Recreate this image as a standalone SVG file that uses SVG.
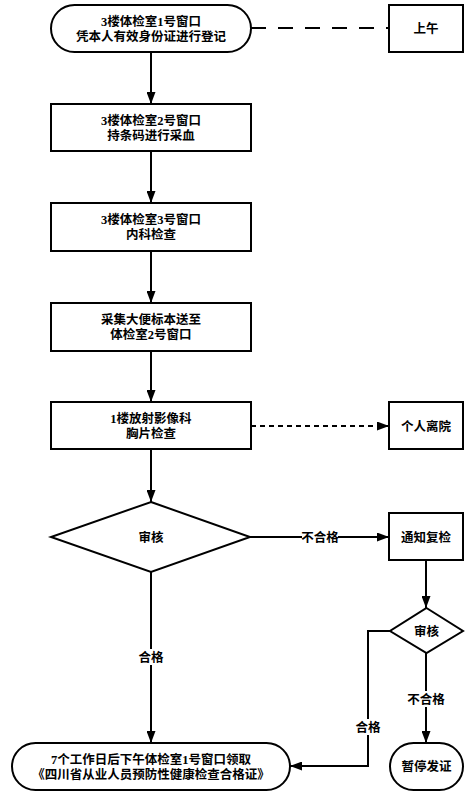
<svg xmlns="http://www.w3.org/2000/svg" width="472" height="803" viewBox="0 0 472 803">
<defs>
<marker id="ah" markerWidth="12" markerHeight="9" refX="12" refY="4.5" orient="auto" markerUnits="userSpaceOnUse">
<path d="M0,0 L12,4.5 L0,9 Z" fill="#000"/>
</marker>
<style>
.n{fill:#fff;stroke:#000;stroke-width:2}
.t{font-family:"Liberation Serif","Noto Sans CJK SC",serif;font-size:12.5px;text-anchor:middle;fill:#000;font-weight:bold}
.c{fill:none;stroke:#000;stroke-width:2}
.lb{font-family:"Liberation Serif","Noto Sans CJK SC",serif;font-size:12.5px;text-anchor:middle;fill:#000;font-weight:bold}
</style>
</defs>
<rect width="472" height="803" fill="#fff"/>
<g id="connectors">
<path class="c" d="M251,28 H389" stroke-dasharray="15,12"/>
<path class="c" d="M151,52 V104" marker-end="url(#ah)"/>
<path class="c" d="M151,151 V203" marker-end="url(#ah)"/>
<path class="c" d="M151,251 V303" marker-end="url(#ah)"/>
<path class="c" d="M151,351 V402" marker-end="url(#ah)"/>
<path class="c" d="M251,426 H389" stroke-dasharray="5,4" marker-end="url(#ah)"/>
<path class="c" d="M151,449 V502" marker-end="url(#ah)"/>
<path class="c" d="M250,537 H389" marker-end="url(#ah)"/>
<path class="c" d="M151,572 V743" marker-end="url(#ah)"/>
<path class="c" d="M426,560 V608" marker-end="url(#ah)"/>
<path class="c" d="M426,653 V743" marker-end="url(#ah)"/>
<path class="c" d="M390,631 H368 V766 H290" marker-end="url(#ah)"/>
<rect x="302" y="529" width="36" height="16" fill="#fff"/>
<text class="lb" x="320" y="542">不合格</text>
<rect x="136" y="649" width="30" height="16" fill="#fff"/>
<text class="lb" x="151" y="662">合格</text>
<rect x="353" y="719" width="30" height="16" fill="#fff"/>
<text class="lb" x="368" y="732">合格</text>
<rect x="408" y="691" width="36" height="16" fill="#fff"/>
<text class="lb" x="426" y="704">不合格</text>
</g>
<g id="start">
<rect class="n" x="51" y="5" width="200" height="47" rx="23.5"/>
<text class="t" x="151" y="25.5">3楼体检室1号窗口</text>
<text class="t" x="151" y="40.5">凭本人有效身份证进行登记</text>
</g>
<g id="morning">
<rect class="n" x="389" y="5" width="74" height="47"/>
<text class="t" x="426" y="33">上午</text>
</g>
<g id="blood">
<rect class="n" x="51" y="104" width="200" height="47"/>
<text class="t" x="151" y="124.5">3楼体检室2号窗口</text>
<text class="t" x="151" y="139.5">持条码进行采血</text>
</g>
<g id="internal">
<rect class="n" x="51" y="203" width="200" height="48"/>
<text class="t" x="151" y="223.5">3楼体检室3号窗口</text>
<text class="t" x="151" y="238.5">内科检查</text>
</g>
<g id="stool">
<rect class="n" x="51" y="303" width="200" height="48"/>
<text class="t" x="151" y="323.5">采集大便标本送至</text>
<text class="t" x="151" y="338.5">体检室2号窗口</text>
</g>
<g id="xray">
<rect class="n" x="51" y="402" width="200" height="47"/>
<text class="t" x="151" y="422.5">1楼放射影像科</text>
<text class="t" x="151" y="437.5">胸片检查</text>
</g>
<g id="leave">
<rect class="n" x="389" y="402" width="74" height="47"/>
<text class="t" x="426" y="430.5">个人离院</text>
</g>
<g id="review1">
<path class="n" d="M151,502 L250,537 L151,572 L51,537 Z"/>
<text class="t" x="151" y="541.5">审核</text>
</g>
<g id="notify">
<rect class="n" x="389" y="513" width="74" height="47"/>
<text class="t" x="426" y="541.5">通知复检</text>
</g>
<g id="review2">
<path class="n" d="M426.5,608 L463,631 L426.5,653 L390,631 Z"/>
<text class="t" x="426.5" y="635.5">审核</text>
</g>
<g id="collect">
<rect class="n" x="12" y="743" width="278" height="47" rx="23.5"/>
<text class="t" x="151" y="763.5">7个工作日后下午体检室1号窗口领取</text>
<text class="t" x="151" y="778.5">《四川省从业人员预防性健康检查合格证》</text>
</g>
<g id="suspend">
<rect class="n" x="390" y="743" width="73" height="47" rx="23.5"/>
<text class="t" x="426.5" y="771">暂停发证</text>
</g>
</svg>
